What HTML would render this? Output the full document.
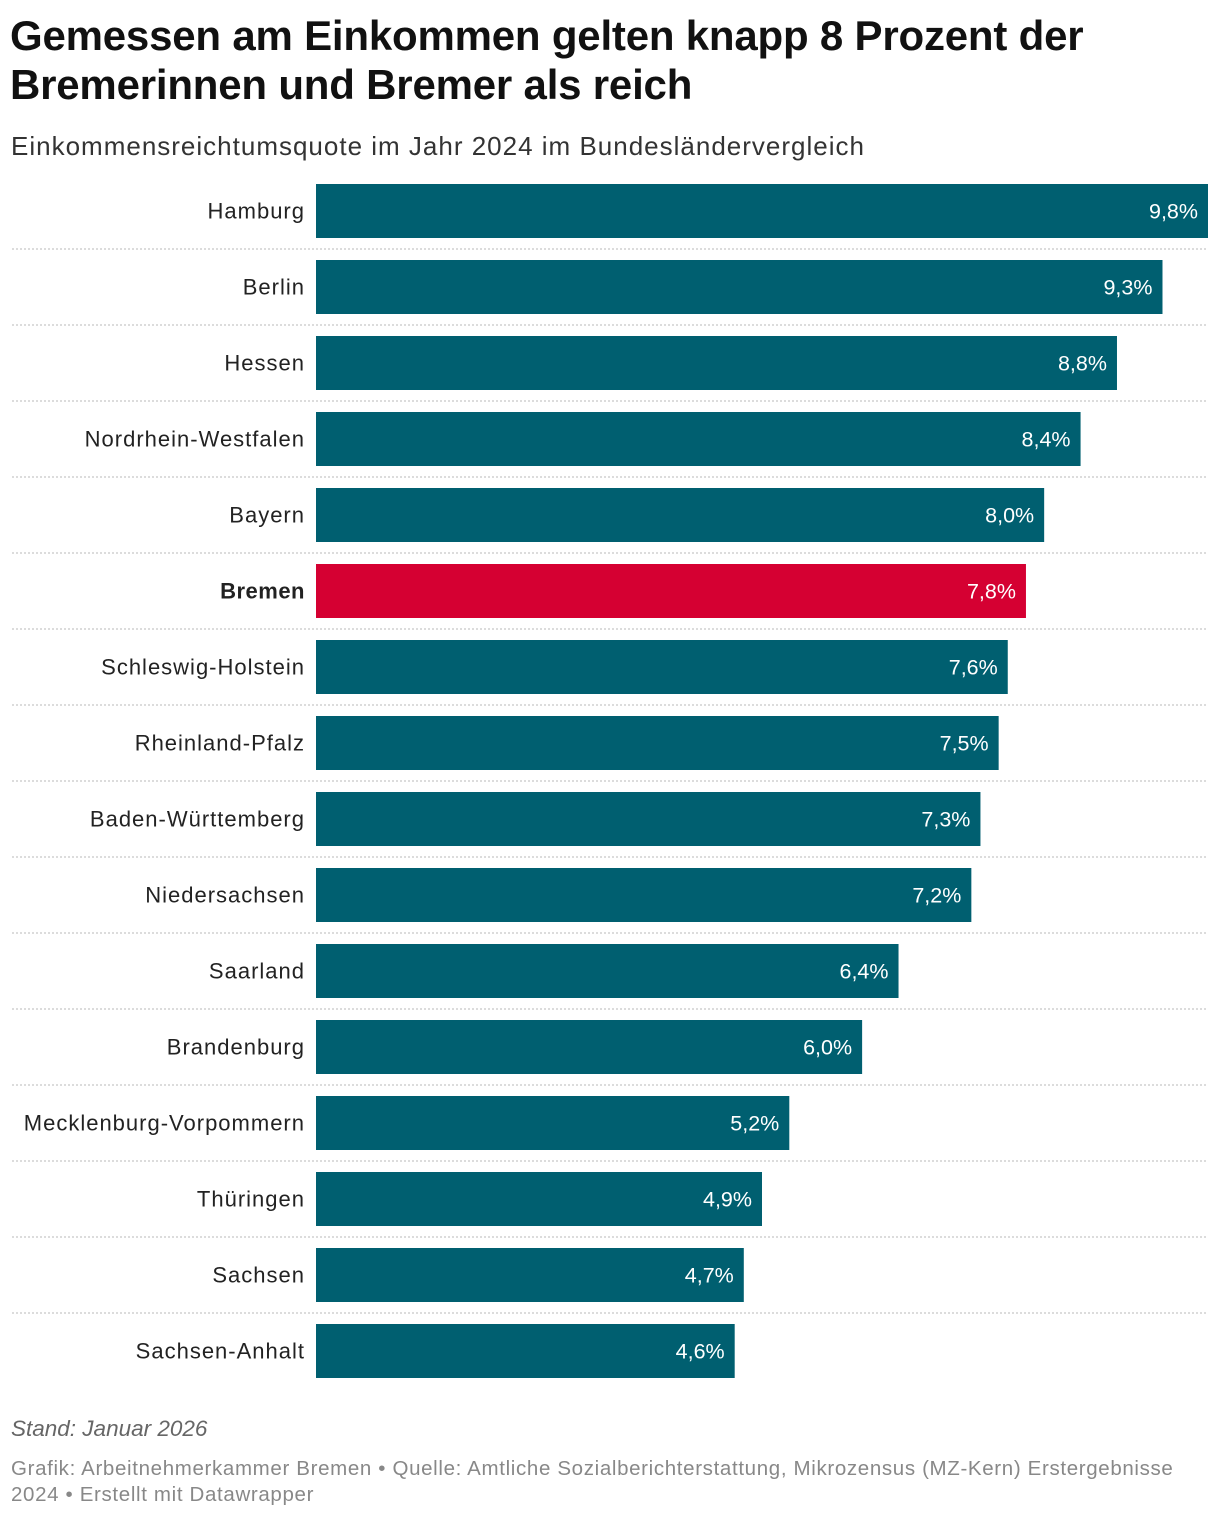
<!DOCTYPE html>
<html><head><meta charset="utf-8">
<style>
html,body{margin:0;padding:0;background:#fff;}
body{width:1220px;height:1518px;position:relative;font-family:"Liberation Sans",sans-serif;overflow:hidden;}
#title{position:absolute;left:10px;top:11px;font-size:42px;font-weight:bold;line-height:49px;color:#111;letter-spacing:-0.2px;margin:0;}
#subtitle{position:absolute;left:11px;top:131px;font-size:26px;letter-spacing:1px;color:#333;}
#chart{position:absolute;left:0;top:0;}
.foot{position:absolute;left:11px;color:#888;font-size:20.5px;letter-spacing:0.65px;line-height:26px;}
</style></head><body>
<h1 id="title">Gemessen am Einkommen gelten knapp 8 Prozent der<br>Bremerinnen und Bremer als reich</h1>
<div id="subtitle">Einkommensreichtumsquote im Jahr 2024 im Bundesländervergleich</div>
<svg id="chart" width="1220" height="1400"></svg>
<div class="foot" style="top:1416px;font-style:italic;color:#666;font-size:22.5px;letter-spacing:0;">Stand: Januar 2026</div>
<div class="foot" style="top:1456px;">Grafik: Arbeitnehmerkammer Bremen • Quelle: Amtliche Sozialberichterstattung, Mikrozensus (MZ-Kern) Erstergebnisse<br>2024 • Erstellt mit Datawrapper</div>
<script>
const categories = ["Hamburg","Berlin","Hessen","Nordrhein-Westfalen","Bayern","Bremen","Schleswig-Holstein","Rheinland-Pfalz","Baden-Württemberg","Niedersachsen","Saarland","Brandenburg","Mecklenburg-Vorpommern","Thüringen","Sachsen","Sachsen-Anhalt"];
const values = [9.8,9.3,8.8,8.4,8.0,7.8,7.6,7.5,7.3,7.2,6.4,6.0,5.2,4.9,4.7,4.6];
const valueLabels = ["9,8%","9,3%","8,8%","8,4%","8,0%","7,8%","7,6%","7,5%","7,3%","7,2%","6,4%","6,0%","5,2%","4,9%","4,7%","4,6%"];
const highlight = ["Bremen"];

const svg = document.getElementById('chart');
const NS = 'http://www.w3.org/2000/svg';
const x0 = 316, x1 = 1208, maxV = 9.8;
function xScale(v){ return x0 + (v / maxV) * (x1 - x0); }
function yScale(i){ return 184 + i * 76; }
const barH = 54;

categories.forEach((c, i) => {
  const y = yScale(i);
  const hl = highlight.includes(c);
  const r = document.createElementNS(NS, 'rect');
  
  
  r.setAttribute('x', x0); r.setAttribute('y', y);
  r.setAttribute('width', xScale(values[i]) - x0); r.setAttribute('height', barH);
  r.setAttribute('fill', hl ? '#d50032' : '#005f70');
  svg.appendChild(r);

  const t = document.createElementNS(NS, 'text');
  
  
  t.setAttribute('x', 305); t.setAttribute('y', y + barH / 2 + 7.5);
  t.setAttribute('text-anchor', 'end');
  t.setAttribute('font-size', '22');
  t.setAttribute('letter-spacing', hl ? '0.5' : '1');
  t.setAttribute('fill', '#222');
  if (hl) t.setAttribute('font-weight', 'bold');
  t.textContent = c;
  svg.appendChild(t);

  const v = document.createElementNS(NS, 'text');
  
  
  v.setAttribute('x', xScale(values[i]) - 10); v.setAttribute('y', y + barH / 2 + 7.5);
  v.setAttribute('text-anchor', 'end');
  v.setAttribute('font-size', '21.5');
  v.setAttribute('fill', '#fff');
  v.textContent = valueLabels[i];
  svg.appendChild(v);

  if (i < categories.length - 1) {
    const l = document.createElementNS(NS, 'line');
    
    
    l.setAttribute('x1', 12); l.setAttribute('x2', 1208);
    l.setAttribute('y1', y + barH + 11); l.setAttribute('y2', y + barH + 11);
    l.setAttribute('stroke', '#c8c8c8'); l.setAttribute('stroke-width', '1.3');
    l.setAttribute('stroke-dasharray', '2,2');
    svg.appendChild(l);
  }
});
</script>
</body></html>
